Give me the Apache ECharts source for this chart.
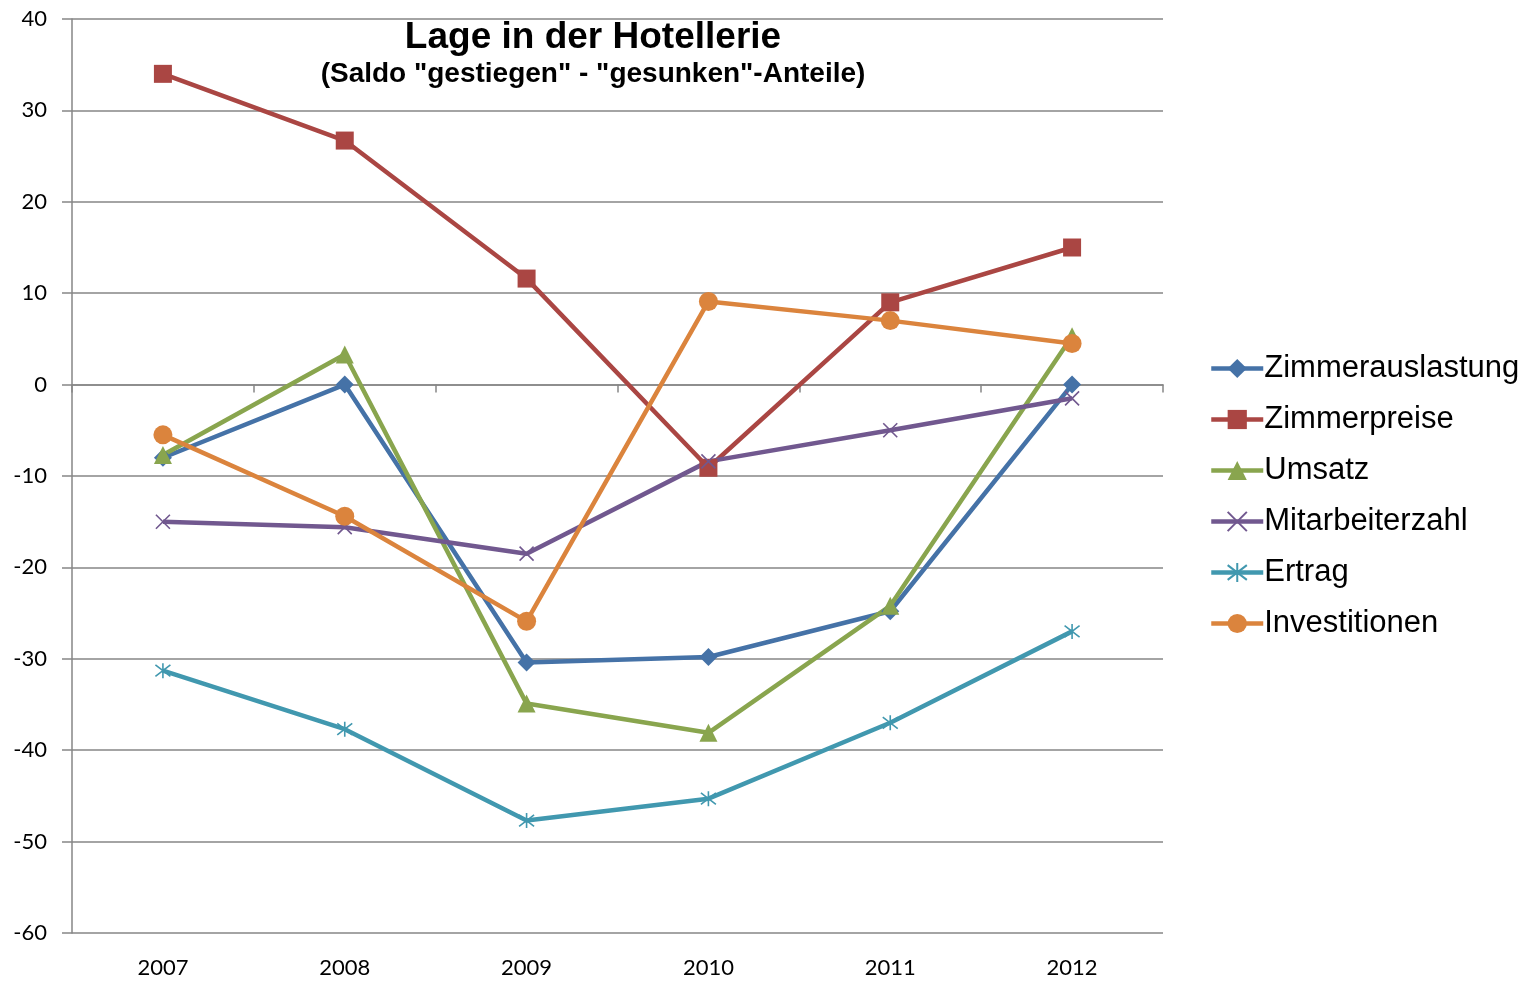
<!DOCTYPE html>
<html><head><meta charset="utf-8">
<script src="https://cdn.jsdelivr.net/npm/echarts@6/dist/echarts.min.js"></script>
<style>html,body{margin:0;padding:0;background:#fff}#c{width:1528px;height:981px}</style>
</head><body><div id="c"></div>
<script>
const years = ['2007','2008','2009','2010','2011','2012'];
const zimmerauslastung = [-8.0, 0.0, -30.4, -29.8, -24.8, 0.0];
const zimmerpreise = [34.0, 26.7, 11.6, -9.1, 9.0, 15.0];
const umsatz = [-7.7, 3.3, -34.9, -38.1, -24.2, 5.3];
const mitarbeiterzahl = [-15.0, -15.6, -18.5, -8.4, -5.0, -1.5];
const ertrag = [-31.3, -37.7, -47.7, -45.3, -37.0, -27.0];
const investitionen = [-5.5, -14.4, -25.9, 9.1, 7.0, 4.5];
const yTicks = [-60, -50, -40, -30, -20, -10, 0, 10, 20, 30, 40];

const chart = echarts.init(document.getElementById('c'));
const X_PATH = 'path://M0,0L10,10M10,0L0,10';
const STAR_PATH = 'path://M0,0L10,10M10,0L0,10M5,-1.5L5,11.5';
function s(name, data, color, symbol, size, stroke) {
  const o = {
    name, type: 'line', data, xAxisIndex: 0,
    symbol, symbolSize: size,
    lineStyle: { color, width: 4.5 },
    itemStyle: { color, borderColor: color, borderWidth: stroke ? 1.6 : 0 },
    emphasis: { disabled: true },
    z: 3
  };
  if (stroke) o.itemStyle.color = 'rgba(0,0,0,0)';
  return o;
}
chart.setOption({
  animation: false,
  title: {
    text: 'Lage in der Hotellerie',
    subtext: '(Saldo "gestiegen" - "gesunken"-Anteile)',
    left: 588, textAlign: 'center', top: 14, itemGap: 4,
    textStyle: { fontFamily: 'Liberation Sans', fontWeight: 'bold', fontSize: 37, color: '#000' },
    subtextStyle: { fontFamily: 'Liberation Sans', fontWeight: 'bold', fontSize: 28, color: '#000' }
  },
  legend: {
    orient: 'vertical', left: 1204, top: 348, itemGap: 20,
    itemWidth: 52, itemHeight: 24,
    lineStyle: { width: 4.5 },
    textStyle: { fontFamily: 'Liberation Sans', fontSize: 31, color: '#000', padding: [0,0,0,-4] },
    data: ['Zimmerauslastung','Zimmerpreise','Umsatz','Mitarbeiterzahl','Ertrag','Investitionen']
  },
  grid: { left: 72, right: 365, top: 19, bottom: 48 },
  xAxis: [
    { type: 'category', data: years, position: 'bottom',
      axisLine: { show: false, onZero: false }, axisTick: { show: false },
      axisLabel: { fontFamily: 'Lato', fontSize: 22, color: '#000', margin: 24 } },
    { type: 'category', data: years, position: 'bottom',
      axisLine: { show: true, onZero: true, lineStyle: { color: '#868686', width: 1.5 } },
      axisTick: { show: true, length: 8, lineStyle: { color: '#868686', width: 1.5 } },
      axisLabel: { show: false } }
  ],
  yAxis: {
    type: 'value', min: yTicks[0], max: yTicks[yTicks.length-1], interval: 10,
    axisLine: { show: true, lineStyle: { color: '#868686', width: 1.5 } },
    axisTick: { show: true, length: 10, lineStyle: { color: '#868686', width: 1.5 } },
    splitLine: { lineStyle: { color: '#868686', width: 1.5 } },
    axisLabel: { fontFamily: 'Lato', fontSize: 22, color: '#000', margin: 25 }
  },
  series: [
    s('Zimmerauslastung', zimmerauslastung, '#4572A7', 'diamond', 18),
    s('Zimmerpreise', zimmerpreise, '#AA4643', 'rect', 18),
    s('Umsatz', umsatz, '#89A54E', 'triangle', 18),
    s('Mitarbeiterzahl', mitarbeiterzahl, '#71588F', X_PATH, 14, true),
    s('Ertrag', ertrag, '#4198AF', STAR_PATH, 15, true),
    s('Investitionen', investitionen, '#DB843D', 'circle', 19)
  ]
});
</script></body></html>
